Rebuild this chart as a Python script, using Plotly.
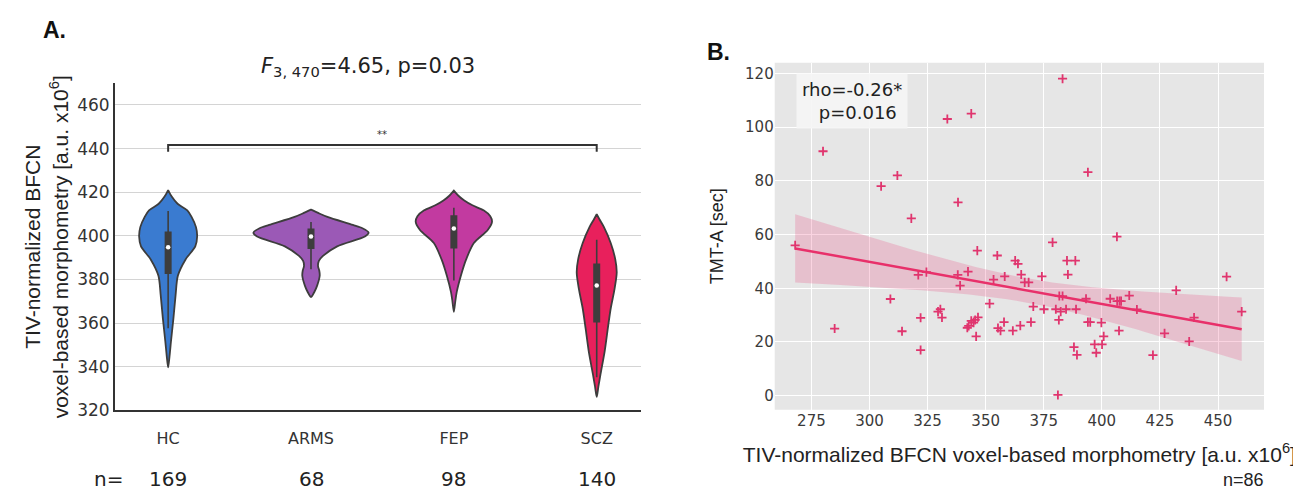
import numpy as np
import plotly.graph_objects as go

W, H = 1301, 494

# ---------------- Panel A data ----------------
groups = ["HC", "ARMS", "FEP", "SCZ"]
n_counts = [169, 68, 98, 140]
colors = ["#3a7bd0", "#9b59b6", "#c23aa0", "#e8205c"]

# violin outline profiles (value, half-width in category units)
hc_y = [339.7, 345, 351.7, 362.2, 372.7, 381.7, 389.2, 395.2, 399.7, 404, 408.7, 411.7, 414.7, 418, 421]
hc_w = [0, 0.01, 0.02, 0.037, 0.052, 0.068, 0.122, 0.19, 0.203, 0.195, 0.164, 0.134, 0.066, 0.025, 0]
arms_y = [372, 374.5, 377.2, 381.7, 384, 386.2, 388.5, 390.7, 395.2, 399.7, 401.5, 403.5, 405, 408.7, 410.5, 412]
arms_w = [0, 0.025, 0.043, 0.061, 0.058, 0.049, 0.055, 0.082, 0.183, 0.377, 0.403, 0.36, 0.293, 0.115, 0.05, 0]
fep_y = [365.2, 370, 374.2, 381.7, 389.2, 396.7, 402.7, 406.4, 409, 411.7, 414, 416.2, 418.5, 420.7]
fep_w = [0, 0.01, 0.02, 0.049, 0.086, 0.14, 0.237, 0.267, 0.255, 0.208, 0.13, 0.073, 0.03, 0]
scz_y = [326.2, 331, 336.7, 347.2, 357.7, 366.7, 375.7, 383.2, 389.2, 396.7, 404.2, 407.5, 409.9]
scz_w = [0, 0.012, 0.027, 0.056, 0.078, 0.098, 0.125, 0.14, 0.13, 0.098, 0.049, 0.02, 0]

# inner box statistics
q1 = [382.5, 394.0, 394.2, 360.3]
med = [394.8, 399.7, 403.4, 377.2]
q3 = [402.0, 403.4, 409.4, 387.3]
wlo = [357.7, 384.7, 379.5, 335.2]
whi = [411.4, 406.4, 412.9, 398.2]

# ---------------- Panel B data ----------------
bfcn = [268, 280, 285, 305, 309, 312, 314, 318, 321, 322, 322, 324.5, 329.5, 330.5, 331.2,
        333.5, 338.1, 338, 339, 342.4, 342.1, 342.7, 343.8, 344.8, 345.5, 346.7, 345.9, 343.8,
        346.4, 351.7, 353.4, 355.0, 355.3, 356.4, 357.9, 358.2, 361.7, 362.7, 363.9, 364.9,
        365.3, 366.8, 368.5, 369.5, 370.5, 374.2, 375.1, 378.8, 380.2, 381.1, 381.5, 381.7,
        382.3, 383.1, 383.1, 384.6, 385.0, 385.4, 388.0, 388.6, 388.9, 389.3, 393.2, 394.0,
        395.0, 394.0, 396.9, 397.6, 399.8, 400.1, 400.8, 403.6, 406.5, 406.6, 407.6, 408.3,
        407.4, 411.8, 415.1, 422.0, 427.0, 432.0, 437.6, 439.7, 453.7, 460.2]
tmta = [56, 91, 25, 78, 36, 82, 24, 66, 45, 29, 17, 46, 31.3, 32.2, 29.1,
        103, 72, 45, 41, 46.2, 25.3, 26.0, 27.9, 27.2, 28.2, 29.2, 22.1, 105,
        54, 34.3, 43.2, 52.2, 25.2, 24.2, 27.4, 44.4, 24.2, 50.3, 49.1, 26.1,
        45.1, 42.2, 42.2, 27.4, 33.2, 44.4, 32.2, 57.1, 32.2, 0.3, 28.2, 37.1,
        31.3, 37.1, 118, 32.2, 50.3, 45.1, 18.1, 50.3, 32.2, 15.2, 36.1, 27.4,
        27.4, 83.2, 19.1, 16.0, 27.2, 19.1, 22.1, 36.1, 59.2, 35.2, 35.2, 35.2,
        24.2, 37.3, 32.1, 15.1, 23.2, 39.2, 20.2, 29.1, 44.3, 31.3]

fig = go.Figure()

# ---------- violins (panel A) ----------
profiles = [(hc_y, hc_w), (arms_y, arms_w), (fep_y, fep_w), (scz_y, scz_w)]
for i, (py, pw) in enumerate(profiles):
    py = np.array(py, float)
    pw = np.array(pw, float)
    xs = np.concatenate([i + pw, (i - pw)[::-1]])
    ys = np.concatenate([py, py[::-1]])
    fig.add_trace(go.Scatter(x=xs, y=ys, mode="lines", fill="toself",
                             fillcolor=colors[i], line=dict(color="#3d3d3d", width=1.8, shape="spline", smoothing=0.8),
                             xaxis="x", yaxis="y", hoverinfo="skip", showlegend=False))
    fig.add_trace(go.Scatter(x=[i, i], y=[wlo[i], whi[i]], mode="lines",
                             line=dict(color="#3d3d3d", width=1.6), xaxis="x", yaxis="y",
                             hoverinfo="skip", showlegend=False))
    fig.add_trace(go.Scatter(x=[i, i], y=[q1[i], q3[i]], mode="lines",
                             line=dict(color="#3d3d3d", width=7), xaxis="x", yaxis="y",
                             hoverinfo="skip", showlegend=False))
    fig.add_trace(go.Scatter(x=[i], y=[med[i]], mode="markers",
                             marker=dict(color="white", size=4.5), xaxis="x", yaxis="y",
                             hoverinfo="skip", showlegend=False))

# significance bracket HC vs SCZ
fig.add_trace(go.Scatter(x=[0, 0, 3, 3], y=[438.6, 441.7, 441.7, 438.6], mode="lines",
                         line=dict(color="#333333", width=2), xaxis="x", yaxis="y",
                         hoverinfo="skip", showlegend=False))

# ---------- scatter + regression (panel B) ----------
xb = np.array(bfcn, float)
yb = np.array(tmta, float)
slope, intercept = np.polyfit(xb, yb, 1)
xg = np.linspace(xb.min(), xb.max(), 100)
yg = intercept + slope * xg
n = len(xb)
resid = yb - (intercept + slope * xb)
s = np.sqrt(np.sum(resid ** 2) / (n - 2))
sxx = np.sum((xb - xb.mean()) ** 2)
se = s * np.sqrt(1.0 / n + (xg - xb.mean()) ** 2 / sxx)
tcrit = 1.99
upper = yg + tcrit * se * 1.05
lower = yg - tcrit * se * 1.05

fig.add_trace(go.Scatter(x=np.concatenate([xg, xg[::-1]]), y=np.concatenate([upper, lower[::-1]]),
                         mode="lines", fill="toself", fillcolor="rgba(232,60,120,0.22)",
                         line=dict(width=0), xaxis="x2", yaxis="y2", hoverinfo="skip", showlegend=False))
fig.add_trace(go.Scatter(x=xb, y=yb, mode="markers",
                         marker=dict(symbol="cross-thin", size=6.5, line=dict(color="#e0356e", width=1.8)),
                         xaxis="x2", yaxis="y2", showlegend=False))
fig.add_trace(go.Scatter(x=xg, y=yg, mode="lines", line=dict(color="#e8306a", width=2.5),
                         xaxis="x2", yaxis="y2", hoverinfo="skip", showlegend=False))

tickfontA = dict(family="DejaVu Sans", size=16, color="#333333")
tickfontB = dict(family="DejaVu Sans", size=15, color="#3a3a3a")

fig.update_layout(
    width=W, height=H, margin=dict(l=0, r=0, t=0, b=0),
    paper_bgcolor="white", plot_bgcolor="white",
    xaxis=dict(domain=[107 / W, 633 / W], range=[-0.372, 3.31], tickmode="array",
               tickvals=[0, 1, 2, 3], ticktext=groups, showgrid=False, zeroline=False,
               showline=True, linecolor="#333333", linewidth=2, ticks="", ticklabelstandoff=12,
               tickfont=tickfontA),
    yaxis=dict(domain=[(H - 410.7) / H, (H - 76.7) / H], range=[320, 470],
               tickvals=[320, 340, 360, 380, 400, 420, 440, 460], showgrid=True,
               gridcolor="#d4d4d4", gridwidth=1.3, zeroline=False, showline=True,
               linecolor="#333333", linewidth=2, ticks="", tickfont=dict(family="DejaVu Sans", size=17, color="#333333"),
               title=dict(text="TIV-normalized BFCN<br>voxel-based morphometry [a.u. x10<sup>6</sup>]",
                          font=dict(family="Liberation Sans", size=21, color="#222222"), standoff=3)),
    xaxis2=dict(domain=[766.7 / W, 1256 / W], range=[259.2, 469.8], tickvals=[275, 300, 325, 350, 375, 400, 425, 450],
                showgrid=True, gridcolor="white", gridwidth=1.3, zeroline=False, showline=False, ticks="",
                tickfont=tickfontB, anchor="y2",
                title=dict(text="TIV-normalized BFCN voxel-based morphometry [a.u. x10<sup>6</sup>]",
                           font=dict(family="Liberation Sans", size=21, color="#222222"), standoff=18)),
    yaxis2=dict(domain=[(H - 410) / H, (H - 56) / H], range=[-5.2, 123.9], tickvals=[0, 20, 40, 60, 80, 100, 120],
                showgrid=True, gridcolor="white", gridwidth=1.3, zeroline=False, showline=False, ticks="",
                tickfont=tickfontB, anchor="x2",
                title=dict(text="TMT-A [sec]", font=dict(family="Liberation Sans", size=18, color="#222222"), standoff=16)),
)

# panel B background
fig.add_shape(type="rect", xref="x2 domain", yref="y2 domain", x0=0, x1=1, y0=0, y1=1,
              fillcolor="#e6e6e6", line=dict(width=0), layer="below")

ann = []
ann.append(dict(text="<b>A.</b>", x=33 / W, y=1 - 22 / H, xref="paper", yref="paper", showarrow=False,
                xanchor="left", yanchor="middle", font=dict(family="Liberation Sans", size=23, color="#111111")))
ann.append(dict(text="<b>B.</b>", x=697 / W, y=1 - 45 / H, xref="paper", yref="paper", showarrow=False,
                xanchor="left", yanchor="middle", font=dict(family="Liberation Sans", size=23, color="#111111")))
ann.append(dict(text="<i>F</i><sub>3, 470</sub>=4.65, p=0.03", x=360 / W, y=1 - 60 / H, xref="paper", yref="paper",
                showarrow=False, xanchor="center", yanchor="middle",
                font=dict(family="DejaVu Sans", size=21, color="#222222")))
ann.append(dict(text="**", x=1.5, y=446.5, xref="x", yref="y", showarrow=False, xanchor="center", yanchor="middle",
                font=dict(family="DejaVu Sans", size=10, color="#333333")))
ann.append(dict(text="n=", x=100 / W, y=1 - 481 / H, xref="paper", yref="paper", showarrow=False,
                xanchor="center", yanchor="middle", font=dict(family="DejaVu Sans", size=20, color="#222222")))
for i, c in enumerate(n_counts):
    ann.append(dict(text=str(c), x=i, y=1 - 481 / H, xref="x", yref="paper", showarrow=False,
                    xanchor="center", yanchor="middle", font=dict(family="DejaVu Sans", size=20, color="#222222")))
ann.append(dict(text="n=86", x=1258 / W, y=1 - 482 / H, xref="paper", yref="paper", showarrow=False,
                xanchor="right", yanchor="middle", font=dict(family="Liberation Sans", size=18, color="#222222")))
ann.append(dict(text="rho=-0.26*<br>  p=0.016", x=844 / W, y=1 - 95 / H, xref="paper", yref="paper",
                showarrow=False, xanchor="center", yanchor="middle", align="center",
                bgcolor="rgba(245,245,245,0.9)", borderpad=5,
                font=dict(family="DejaVu Sans", size=18, color="#222222")))
fig.update_layout(annotations=ann)

fig.write_html("out.html")
